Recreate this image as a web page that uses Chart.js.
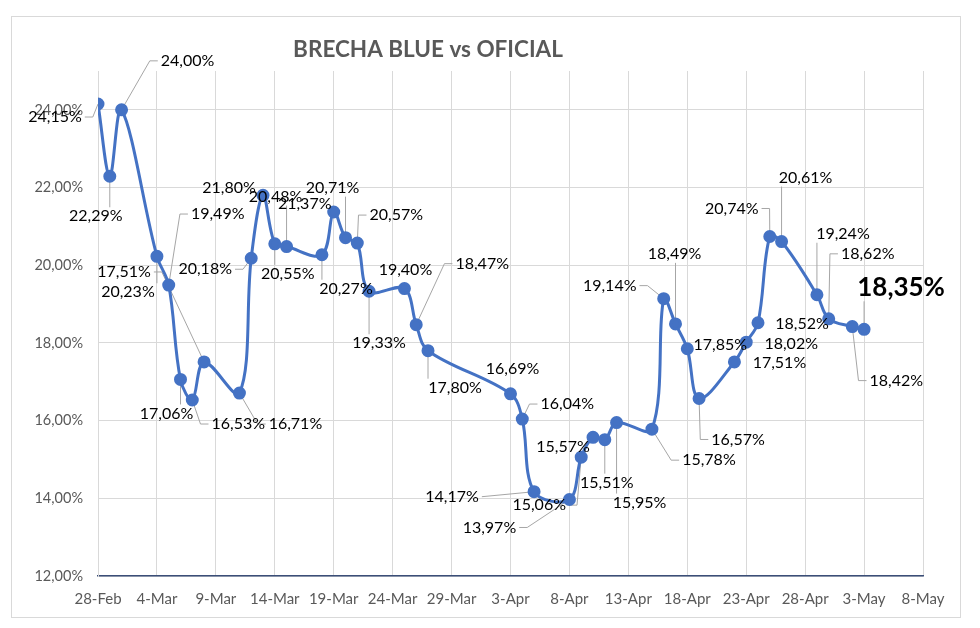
<!DOCTYPE html>
<html>
<head>
<meta charset="utf-8">
<script src="https://cdn.jsdelivr.net/npm/chart.js@4.4.1/dist/chart.umd.min.js"></script>
<style>
  html, body { margin: 0; padding: 0; background: #ffffff; }
  #wrap { width: 980px; height: 628px; }
</style>
</head>
<body>
<div id="wrap"><canvas id="c" width="980" height="628"></canvas></div>
<script>
// ---- DATA ----
const chartTitle = 'BRECHA BLUE vs OFICIAL';
const dates = [
  '2024-02-28','2024-02-29','2024-03-01','2024-03-04','2024-03-05','2024-03-06','2024-03-07','2024-03-08',
  '2024-03-11','2024-03-12','2024-03-13','2024-03-14','2024-03-15','2024-03-18','2024-03-19','2024-03-20',
  '2024-03-21','2024-03-22','2024-03-25','2024-03-26','2024-03-27','2024-04-03','2024-04-04','2024-04-05',
  '2024-04-08','2024-04-09','2024-04-10','2024-04-11','2024-04-12','2024-04-15','2024-04-16','2024-04-17',
  '2024-04-18','2024-04-19','2024-04-22','2024-04-23','2024-04-24','2024-04-25','2024-04-26','2024-04-29',
  '2024-04-30','2024-05-02','2024-05-03'
];
const brecha = [
  24.15, 22.29, 24.00, 20.23, 19.49, 17.06, 16.53, 17.51,
  16.71, 20.18, 21.80, 20.55, 20.48, 20.27, 21.37, 20.71,
  20.57, 19.33, 19.40, 18.47, 17.80, 16.69, 16.04, 14.17,
  13.97, 15.06, 15.57, 15.51, 15.95, 15.78, 19.14, 18.49,
  17.85, 16.57, 17.51, 18.02, 18.52, 20.74, 20.61, 19.24,
  18.62, 18.42, 18.35
];
const xTickLabels = ['28-Feb','4-Mar','9-Mar','14-Mar','19-Mar','24-Mar','29-Mar','3-Apr','8-Apr','13-Apr','18-Apr','23-Apr','28-Apr','3-May','8-May'];
const yTickValues = [12, 14, 16, 18, 20, 22, 24];

// label placement (offset of label centre from its point, in px; third item = draw leader line)
const labelOffsets = [
  [-43,13,1],[-14,40,1],[66,-49,1],[-29,36,1],[49,-71,1],[-14,34,1],[46,24,1],[-80,-90,1],
  [56,31,1],[-46,11,1],[-34,-7,0],[13,30,1],[-11,-50,1],[24,34,1],[-29,-8,0],[-13,-50,1],
  [39,-28,1],[10,52,1],[1,-19,0],[66,-61,1],[27,37,1],[2,-25,0],[45,-15,1],[-82,5,1],
  [-80,28,1],[-42,48,1],[-30,10,0],[2,43,1],[23,80,1],[57,31,1],[-54,-13,1],[-1,-70,1],
  [33,-4,0],[39,41,1],[45,1,0],[45,2,0],[44,1,0],[-38,-28,1],[24,-64,1],[26,-61,1],
  [39,-65,1],[44,54,1],[37,-42,1]
];

// ---- derived ----
const startMs = Date.parse('2024-02-28T00:00:00Z');
const dayIndex = dates.map(d => Math.round((Date.parse(d + 'T00:00:00Z') - startMs) / 86400000));
const points = dayIndex.map((d, i) => ({ x: d, y: brecha[i] }));
const fmt = v => v.toFixed(2).replace('.', ',') + '%';

const BLUE = '#4472C4';
const GRID = '#D9D9D9';
const TXT = '#595959';

const framePlugin = {
  id: 'frame',
  beforeDraw(chart) {
    const ctx = chart.ctx;
    ctx.save();
    ctx.fillStyle = '#ffffff';
    ctx.fillRect(0, 0, chart.width, chart.height);
    ctx.strokeStyle = GRID;
    ctx.lineWidth = 1;
    ctx.strokeRect(11.5, 16.5, 949, 601);
    ctx.restore();
  },
  afterDraw(chart) {
    const ctx = chart.ctx;
    ctx.save();
    ctx.fillStyle = TXT;
    ctx.font = 'bold 22.5px Lato, "Open Sans", sans-serif';
    ctx.textAlign = 'center';
    ctx.textBaseline = 'middle';
    ctx.fillText(chartTitle, 428, 50);
    ctx.restore();
  }
};

function labelBox(ctx, el, i) {
  const last = i === brecha.length - 1;
  const size = last ? 26 : 16;
  ctx.font = (last ? 'bold ' : '') + size + 'px Lato, "Open Sans", sans-serif';
  const txt = fmt(brecha[i]);
  const w = ctx.measureText(txt).width;
  const cx = el.x + labelOffsets[i][0];
  const cy = el.y + labelOffsets[i][1];
  return { txt, w, h: size, cx, cy, l: cx - w / 2, r: cx + w / 2, t: cy - size / 2, b: cy + size / 2, font: ctx.font };
}

const labelPlugin = {
  id: 'pointLabels',
  beforeDatasetsDraw(chart) {
    const ctx = chart.ctx;
    const meta = chart.getDatasetMeta(0);
    ctx.save();
    ctx.strokeStyle = '#A6A6A6';
    ctx.lineWidth = 1;
    meta.data.forEach((el, i) => {
      if (!labelOffsets[i][2]) return;
      const bx = labelBox(ctx, el, i);
      const px = el.x, py = el.y;
      ctx.beginPath();
      if (px < bx.l - 4) {
        ctx.moveTo(bx.l - 3, bx.cy);
        if (Math.abs(py - bx.cy) > 10) ctx.lineTo(bx.l - 11, bx.cy);
        ctx.lineTo(px, py);
      } else if (px > bx.r + 4) {
        ctx.moveTo(bx.r + 3, bx.cy);
        if (Math.abs(py - bx.cy) > 10) ctx.lineTo(bx.r + 11, bx.cy);
        ctx.lineTo(px, py);
      } else {
        const ay = py < bx.cy ? bx.t - 1 : bx.b + 1;
        ctx.moveTo(px, ay);
        ctx.lineTo(px, py);
      }
      ctx.stroke();
    });
    ctx.restore();
  },
  afterDatasetsDraw(chart) {
    const ctx = chart.ctx;
    const meta = chart.getDatasetMeta(0);
    ctx.save();
    ctx.fillStyle = '#000000';
    ctx.textAlign = 'center';
    ctx.textBaseline = 'middle';
    meta.data.forEach((el, i) => {
      const bx = labelBox(ctx, el, i);
      ctx.font = bx.font;
      ctx.fillText(bx.txt, bx.cx, bx.cy);
    });
    ctx.restore();
  }
};

new Chart(document.getElementById('c'), {
  type: 'line',
  data: {
    datasets: [{
      label: 'Brecha',
      data: points,
      borderColor: BLUE,
      backgroundColor: BLUE,
      borderWidth: 3,
      pointRadius: 5,
      pointBackgroundColor: BLUE,
      pointBorderColor: BLUE,
      tension: 0.35,
      fill: false
    }]
  },
  options: {
    responsive: false,
    animation: false,
    layout: { padding: { top: 71, right: 57, bottom: 0, left: 0 } },
    plugins: { legend: { display: false }, tooltip: { enabled: false }, title: { display: false } },
    scales: {
      x: {
        type: 'linear',
        min: 0,
        max: (xTickLabels.length - 1) * 5,
        afterFit: s => { s.height = 52; },
        afterBuildTicks: s => { s.ticks = xTickLabels.map((_, i) => ({ value: i * 5 })); },
        ticks: {
          autoSkip: false,
          maxRotation: 0,
          padding: 14,
          color: TXT,
          font: { family: 'Lato, "Open Sans", sans-serif', size: 15 },
          callback: (v, i) => xTickLabels[i]
        },
        grid: { color: GRID, drawTicks: false },
        border: { color: '#3B4E78', width: 1.5 }
      },
      y: {
        min: 12,
        max: 25,
        afterFit: s => { s.width = 98; },
        afterBuildTicks: s => { s.ticks = yTickValues.map(v => ({ value: v })); },
        ticks: {
          padding: 15,
          color: TXT,
          font: { family: 'Lato, "Open Sans", sans-serif', size: 14.5 },
          callback: v => fmt(v)
        },
        grid: { color: GRID, drawTicks: false },
        border: { color: GRID }
      }
    }
  },
  plugins: [framePlugin, labelPlugin]
});
</script>
</body>
</html>
